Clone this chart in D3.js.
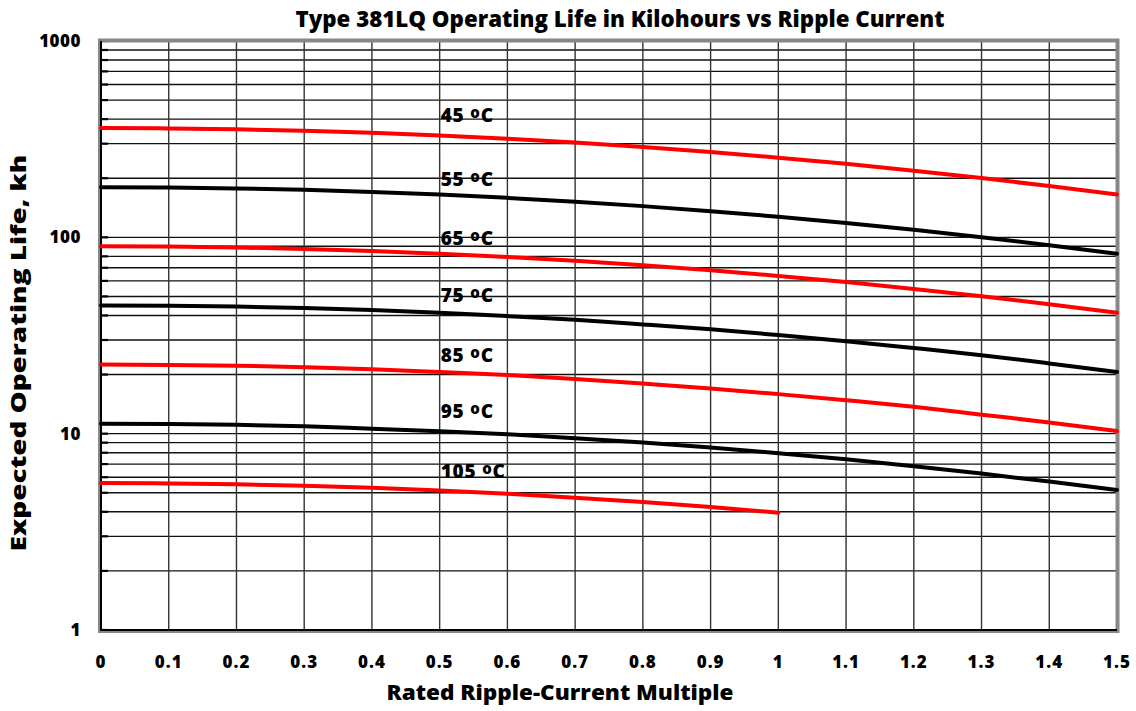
<!DOCTYPE html>
<html>
<head>
<meta charset="utf-8">
<script src="https://cdn.jsdelivr.net/npm/d3@7"></script>
<style>
  body { margin: 0; background: #fff; }
  text { font-family: "Open Sans", "Noto Sans", sans-serif; font-weight: 800; fill: #000; }
</style>
</head>
<body>
<div id="chart"></div>
<script>
// ripple-current multiples read along the x axis
var multiples = [0, 0.1, 0.2, 0.3, 0.4, 0.5, 0.6, 0.7, 0.8, 0.9, 1.0, 1.1, 1.2, 1.3, 1.4, 1.5];

// expected life in kh
var life45 = [360, 358.7, 355.0, 349.0, 340.6, 330.1, 317.8, 303.7, 288.4, 271.9, 254.6, 236.7, 218.6, 200.4, 182.5, 165.1];
var life55 = [180, 179.4, 177.5, 174.5, 170.3, 165.1, 158.9, 151.9, 144.2, 135.9, 127.3, 118.4, 109.3, 100.2, 91.2, 82.5];
var life65 = [90, 89.7, 88.8, 87.2, 85.1, 82.5, 79.4, 75.9, 72.1, 68.0, 63.6, 59.2, 54.6, 50.1, 45.6, 41.3];
var life75 = [45, 44.8, 44.4, 43.6, 42.6, 41.3, 39.7, 38.0, 36.0, 34.0, 31.8, 29.6, 27.3, 25.1, 22.8, 20.6];
var life85 = [22.5, 22.4, 22.2, 21.8, 21.3, 20.6, 19.9, 19.0, 18.0, 17.0, 15.9, 14.8, 13.7, 12.5, 11.4, 10.3];
var life95 = [11.25, 11.2, 11.1, 10.9, 10.6, 10.3, 9.93, 9.49, 9.01, 8.50, 7.95, 7.40, 6.83, 6.26, 5.70, 5.16];
var life105 = [5.6, 5.58, 5.52, 5.43, 5.30, 5.14, 4.94, 4.72, 4.49, 4.23, 3.96];

var temps = ["45", "55", "65", "75", "85", "95", "105"];
var colors = ["#ff0000", "#000000", "#ff0000", "#000000", "#ff0000", "#000000", "#ff0000"];
var yTicks = [1, 10, 100, 1000];
var xTicks = multiples;

var series = [life45, life55, life65, life75, life85, life95, life105];

var width = 1136, height = 711;
var margin = {top: 41, right: 19, bottom: 81, left: 101};

var svg = d3.select("#chart").append("svg")
    .attr("width", width)
    .attr("height", height);

var x = d3.scaleLinear().domain([0, 1.5]).range([margin.left, width - margin.right]);
var y = d3.scaleLog().domain([1, 1000]).range([height - margin.bottom, margin.top]);

// minor + major horizontal grid
var hLines = [];
for (var d = 1; d < 1000; d *= 10) {
    for (var k = 1; k <= 9; k++) hLines.push(d * k);
}
hLines.push(1000);

svg.append("g").selectAll("line.h")
    .data(hLines)
    .enter().append("line")
    .attr("x1", x(0)).attr("x2", x(1.5))
    .attr("y1", function(d) { return y(d); })
    .attr("y2", function(d) { return y(d); })
    .attr("stroke", "#111")
    .attr("stroke-width", 1.4);

svg.append("g").selectAll("line.v")
    .data(xTicks)
    .enter().append("line")
    .attr("x1", function(d) { return x(d); })
    .attr("x2", function(d) { return x(d); })
    .attr("y1", y(1000)).attr("y2", y(1))
    .attr("stroke", "#333")
    .attr("stroke-width", 1.4);

// small inward ticks on the left axis
svg.append("g").selectAll("line.t")
    .data(hLines)
    .enter().append("line")
    .attr("x1", x(0)).attr("x2", x(0) + 7)
    .attr("y1", function(d) { return y(d); })
    .attr("y2", function(d) { return y(d); })
    .attr("stroke", "#000")
    .attr("stroke-width", 2.2);

// plot frame: gray border, black axes
svg.append("rect")
    .attr("x", x(0) - 1).attr("y", y(1000) - 0.5)
    .attr("width", x(1.5) - x(0) + 1.5)
    .attr("height", y(1) - y(1000) + 1.5)
    .attr("fill", "none")
    .attr("stroke", "#888")
    .attr("stroke-width", 4);

svg.append("line")
    .attr("x1", x(0)).attr("x2", x(0))
    .attr("y1", y(1000)).attr("y2", y(1) + 1)
    .attr("stroke", "#000").attr("stroke-width", 2);
svg.append("line")
    .attr("x1", x(0)).attr("x2", x(1.5))
    .attr("y1", y(1)).attr("y2", y(1))
    .attr("stroke", "#000").attr("stroke-width", 2);

// curves
var line = d3.line()
    .x(function(d, i) { return x(multiples[i]); })
    .y(function(d) { return y(d); })
    .curve(d3.curveMonotoneX);

svg.append("g").selectAll("path")
    .data(series)
    .enter().append("path")
    .attr("d", line)
    .attr("fill", "none")
    .attr("stroke", function(d, i) { return colors[i]; })
    .attr("stroke-width", 4)
    .attr("stroke-linecap", "round");

// curve labels
var labelY = [122, 186, 245, 302, 362, 418, 478];
var lab = svg.append("g").selectAll("text.lab")
    .data(temps)
    .enter().append("text")
    .attr("x", x(0.5) + 1)
    .attr("y", function(d, i) { return labelY[i]; })
    .style("font-size", "19px")
    .style("letter-spacing", "0.8px");
lab.append("tspan").text(function(d) { return d + " "; });
lab.append("tspan").attr("dy", -4).style("font-size", "15px").text("o");
lab.append("tspan").attr("dy", 4).text("C");

// y tick labels
svg.append("g").selectAll("text.y")
    .data(yTicks)
    .enter().append("text")
    .attr("x", 81)
    .attr("y", function(d) { return y(d) + 6; })
    .attr("text-anchor", "end")
    .style("font-size", "17px")
    .style("letter-spacing", "0.5px")
    .text(function(d) { return d; });

// x tick labels
svg.append("g").selectAll("text.x")
    .data(xTicks)
    .enter().append("text")
    .attr("x", function(d) { return x(d); })
    .attr("y", 668)
    .attr("text-anchor", "middle")
    .style("font-size", "17px")
    .style("letter-spacing", "1px")
    .text(function(d) { return d; });

svg.append("text")
    .attr("x", 620).attr("y", 27)
    .attr("text-anchor", "middle")
    .attr("textLength", 649)
    .attr("lengthAdjust", "spacingAndGlyphs")
    .style("font-size", "23px")
    .text("Type 381LQ Operating Life in Kilohours vs Ripple Current");

svg.append("text")
    .attr("x", 560).attr("y", 700)
    .attr("text-anchor", "middle")
    .attr("textLength", 347)
    .attr("lengthAdjust", "spacingAndGlyphs")
    .style("font-size", "21px")
    .text("Rated Ripple-Current Multiple");

svg.append("text")
    .attr("transform", "translate(26,353) rotate(-90)")
    .attr("text-anchor", "middle")
    .attr("textLength", 397)
    .attr("lengthAdjust", "spacingAndGlyphs")
    .style("font-size", "21px")
    .text("Expected Operating Life, kh");
</script>
</body>
</html>
